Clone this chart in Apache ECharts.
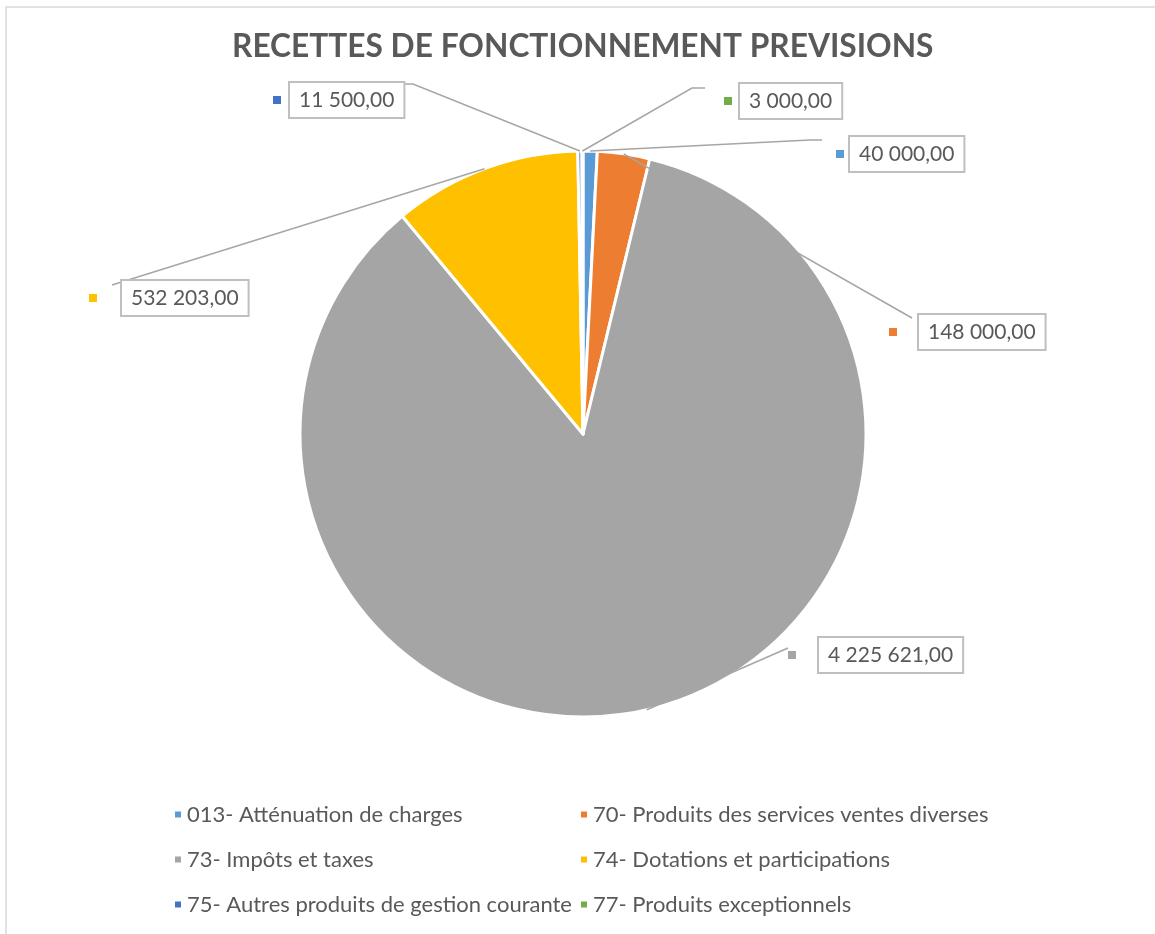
<!DOCTYPE html>
<html><head><meta charset="utf-8">
<script src="https://cdn.jsdelivr.net/npm/echarts@6/dist/echarts.min.js"></script>
<style>html,body{margin:0;padding:0;background:#fff}#c{width:1155px;height:934px}</style>
</head><body><div id="c"></div>
<script>
const titleText = 'RECETTES DE FONCTIONNEMENT PREVISIONS';
const categories = ['013- Atténuation de charges','70- Produits des services ventes diverses','73- Impôts et taxes','74- Dotations et participations','75- Autres produits de gestion courante','77- Produits exceptionnels'];
const values = [40000, 148000, 4225621, 532203, 11500, 3000];
const valueLabels = ['40 000,00','148 000,00','4 225 621,00','532 203,00','11 500,00','3 000,00'];
const colors = ['#5B9BD5','#ED7D31','#A5A5A5','#FFC000','#4472C4','#70AD47'];

// label placement (layout only): marker left x, centre y, gap marker->box, leader line bend/end
const labelPlace = [
  {x: 836, y: 154, gap: 6,  line: [[810,140],[822,140]]},
  {x: 889, y: 332, gap: 22, line: [[912,318]]},
  {x: 788, y: 655, gap: 23, line: [[788,648]]},
  {x: 89,  y: 298, gap: 25, line: [[112,285]]},
  {x: 273, y: 100, gap: 9,  line: [[413,84],[405,84]]},
  {x: 724, y: 101, gap: 8,  line: [[692,88],[705,88]]}
];

const FONT = 'Lato';
const TXT = '#595959';

// base pie: coloured sectors only
const sectorData = categories.map((name, i) => ({
  name: name, value: values[i], itemStyle: {color: colors[i]}
}));

// overlay pie (same values, transparent sectors): labels + leader lines drawn above sectors
const labelData = categories.map((name, i) => ({
  name: name,
  value: values[i],
  itemStyle: {color: 'rgba(0,0,0,0)'},
  label: {
    formatter: '{sq|}{gp|}{bx|' + valueLabels[i] + '}',
    rich: {
      sq: {width: 8, height: 8, backgroundColor: colors[i]},
      gp: {width: labelPlace[i].gap, height: 8},
      bx: {fontSize: 21, fontFamily: FONT, color: TXT, padding: [7, 9, 6, 9],
           borderColor: '#BFBFBF', borderWidth: 2, backgroundColor: '#fff'}
    }
  }
}));

const pieCommon = {
  type: 'pie',
  center: [583, 434],
  radius: 283,
  startAngle: 90,
  clockwise: true,
  avoidLabelOverlap: false,
  minShowLabelAngle: 0,
  emphasis: {disabled: true}
};

const chart = echarts.init(document.getElementById('c'), null, {renderer: 'canvas'});
chart.setOption({
  backgroundColor: '#fff',
  animation: false,
  graphic: [{
    type: 'rect', shape: {x: 6, y: 7, width: 1300, height: 1100},
    style: {fill: 'none', stroke: '#D9D9D9', lineWidth: 1.5}, silent: true, z: -1
  }],
  title: {
    text: titleText, left: 227, top: 26,
    textStyle: {fontSize: 31.7, fontWeight: 'bold', color: TXT, fontFamily: FONT}
  },
  legend: {
    data: categories, left: 173, top: 794, width: 850, padding: 0,
    itemGap: 4, itemWidth: 8, itemHeight: 8, icon: 'rect', selectedMode: false,
    textStyle: {fontSize: 22, color: TXT, fontFamily: FONT, width: 388, lineHeight: 41}
  },
  series: [
    Object.assign({}, pieCommon, {
      z: 2,
      itemStyle: {borderColor: '#fff', borderWidth: 3},
      label: {show: false},
      labelLine: {show: false},
      data: sectorData
    }),
    Object.assign({}, pieCommon, {
      z: 3,
      silent: true,
      itemStyle: {borderWidth: 0},
      label: {show: true, position: 'outside'},
      labelLine: {show: true, smooth: false, lineStyle: {color: '#A6A6A6', width: 1.5}},
      labelLayout: function (p) {
        const L = labelPlace[p.dataIndex];
        const pts = [p.labelLinePoints[0].slice()].concat(L.line.map(q => q.slice()));
        while (pts.length < 3) pts.push(pts[pts.length - 1].slice());
        return {x: L.x, y: L.y, align: 'left', verticalAlign: 'middle', labelLinePoints: pts};
      },
      data: labelData
    })
  ]
});
</script></body></html>
